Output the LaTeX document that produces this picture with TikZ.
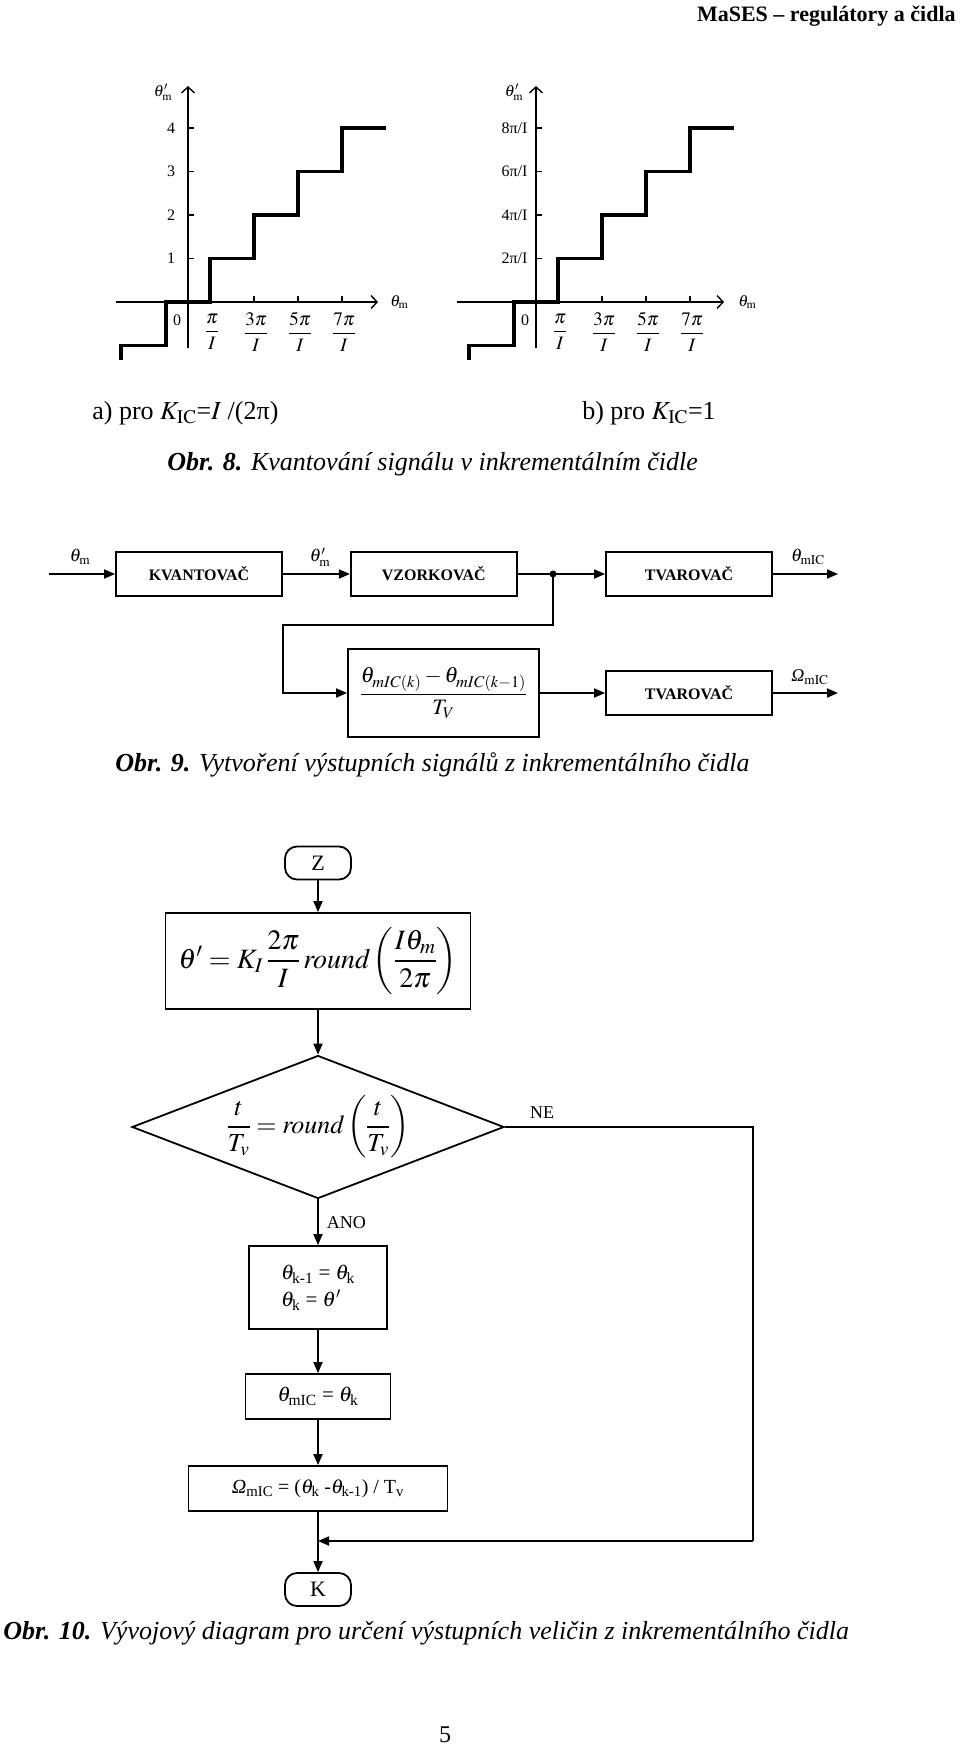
\documentclass[tikz,border=0pt]{standalone}
\usepackage{mathptmx}
\usepackage[no-math]{fontspec}
\setmainfont{Liberation Serif}
\usepackage{amsmath}
\usepackage{tikz}
\usetikzlibrary{arrows.meta}
\usetikzlibrary{positioning}
\usetikzlibrary{shapes.geometric}

\newcommand{\pxsize}[1]{\fontsize{#1}{#1}\selectfont}

\begin{document}
\begin{tikzpicture}[x=1pt, y=-1pt, >={Triangle[length=11pt, width=9pt]}, semithick]
    \tikzstyle{blok}=[draw, line width=1.8pt, minimum width=166pt, minimum height=44pt, inner sep=0pt, font=\pxsize{16}\bfseries]
    \tikzstyle{krok}=[draw, line width=1.8pt, inner sep=0pt, font=\pxsize{21}]
    \tikzstyle{mez}=[draw, line width=1.8pt, rounded corners=12pt, minimum width=66pt, minimum height=33pt, inner sep=0pt, font=\pxsize{22}]
    \tikzstyle{spoj}=[line width=1.8pt, ->]
    \tikzstyle{osa}=[line width=1.4pt, -{Straight Barb[length=6pt, width=13pt]}]
    \tikzstyle{schod}=[line width=3.8pt, line join=miter]
    \tikzstyle{popis}=[inner sep=0pt, font=\pxsize{16}]
    \tikzstyle{titulek}=[anchor=west, inner sep=0pt, font=\pxsize{26}\itshape]

    \useasboundingbox (0,0) rectangle (960,1745);

    \node[anchor=east, inner sep=0pt, font=\pxsize{22}\bfseries] (hlava) at (956,16) {MaSES – regulátory a čidla};

    \begin{scope}[shift={(188,302)}]
        \draw[osa] (-72,0) -- (190,0);
        \draw[osa] (0,46) -- (0,-216);
        \node[popis, anchor=west] (xa) at (202,0) {$\theta_{\mathrm{m}}$};
        \node[popis] (ya) at (-25,-210) {$\theta'_{\mathrm{m}}$};
        \foreach \k in {1,...,4}
            \draw[line width=1.2pt] (0,-43.5*\k) -- (6,-43.5*\k) node[popis] at (-17,-43.5*\k) {\k};
        \foreach \k in {3,5,7}
            \draw[line width=1.2pt] (22*\k,0) -- (22*\k,-6);
        \foreach \k/\lab in {1/\pi,3/3\pi,5/5\pi,7/7\pi}
            \node[popis, font=\pxsize{19}] at (22*\k+2,30) {$\displaystyle\frac{\lab}{I}$};
        \node[popis] (nula) at (-11,18) {0};
        \draw[schod] (-67,58) -- (-67,43.5) -- (-22,43.5) -- (-22,0) -- (22,0) -- (22,-43.5) -- (66,-43.5)
            -- (66,-87) -- (110,-87) -- (110,-130.5) -- (154,-130.5) -- (154,-174) -- (198,-174);
    \end{scope}

    \begin{scope}[shift={(536,302)}]
        \draw[osa] (-79,0) -- (188,0);
        \draw[osa] (0,46) -- (0,-216);
        \node[popis, anchor=west] (xb) at (202,0) {$\theta_{\mathrm{m}}$};
        \node[popis] (yb) at (-22,-210) {$\theta'_{\mathrm{m}}$};
        \foreach \k/\lab in {1/2,2/4,3/6,4/8}
            \draw[line width=1.2pt] (0,-43.5*\k) -- (6,-43.5*\k) node[popis, anchor=east] at (-8,-43.5*\k) {\lab π/I};
        \foreach \k in {3,5,7}
            \draw[line width=1.2pt] (22*\k,0) -- (22*\k,-6);
        \foreach \k/\lab in {1/\pi,3/3\pi,5/5\pi,7/7\pi}
            \node[popis, font=\pxsize{19}] at (22*\k+2,30) {$\displaystyle\frac{\lab}{I}$};
        \node[popis] (nulb) at (-11,18) {0};
        \draw[schod] (-67,58) -- (-67,43.5) -- (-22,43.5) -- (-22,0) -- (22,0) -- (22,-43.5) -- (66,-43.5)
            -- (66,-87) -- (110,-87) -- (110,-130.5) -- (154,-130.5) -- (154,-174) -- (198,-174);
    \end{scope}

    \node[titulek, font=\pxsize{26}] (capa) at (92,413) {a) pro $K_{\mathrm{IC}}$=$I$ /(2π)};
    \node[titulek, font=\pxsize{26}] (capb) at (582,413) {b) pro $K_{\mathrm{IC}}$=1};
    \node[titulek] (obr8) at (167,464) {\textbf{Obr. 8.} Kvantování signálu v inkrementálním čidle};

    \node[blok] (kv) at (199,574) {KVANTOVAČ};
    \node[blok, right=67pt of kv] (vz) {VZORKOVAČ};
    \node[blok] (tv) at (689,574) {TVAROVAČ};
    \node[draw, line width=1.8pt, minimum width=191pt, minimum height=88pt, inner sep=0pt, font=\pxsize{22}] (zlom) at (443.5,693)
        {$\displaystyle\frac{\theta_{mIC(k)}-\theta_{mIC(k-1)}}{T_V}$};
    \node[blok] (tv2) at (689,693) {TVAROVAČ};
    \coordinate (vstup) at (49,574);
    \coordinate (vystup) at (838,574);
    \coordinate (vystup2) at (838,693);
    \coordinate (uzel) at (553,574);
    \coordinate (ohyb) at (283,625);

    \draw[spoj] (vstup) -- (kv);
    \draw[spoj] (kv) -- (vz);
    \draw[spoj] (vz) -- (tv);
    \draw[spoj] (tv) -- (vystup);
    \fill (uzel) circle (3.5pt);
    \draw[spoj] (uzel) -- (uzel |- ohyb) -- (ohyb) |- (zlom.west);
    \draw[spoj] (zlom) -- (tv2);
    \draw[spoj] (tv2) -- (vystup2);

    \node[popis, font=\pxsize{18}] (lthm) at (80,557) {$\theta_{\mathrm{m}}$};
    \node[popis, font=\pxsize{18}] (lthc) at (320,557) {$\theta'_{\mathrm{m}}$};
    \node[popis, font=\pxsize{18}] (lthic) at (808,557) {$\theta_{\mathrm{mIC}}$};
    \node[popis, font=\pxsize{18}] (lomic) at (810,677) {\textit{Ω}$_{\mathrm{mIC}}$};

    \node[titulek] (obr9) at (115,765) {\textbf{Obr. 9.} Vytvoření výstupních signálů z inkrementálního čidla};

    \node[mez] (z) at (318,863) {Z};
    \node[krok, minimum width=305pt, minimum height=96pt, font=\pxsize{28}] (f1) at (318,961)
        {$\theta' = K_I\,\displaystyle\frac{2\pi}{I}\,\mathit{round}\left(\frac{I\theta_m}{2\pi}\right)$};
    \node[draw, diamond, aspect=2.6, minimum width=372pt, minimum height=143pt, line width=1.8pt, inner sep=0pt, font=\pxsize{26}] (rozh) at (318,1127)
        {$\displaystyle\frac{t}{T_v} = \mathit{round}\left(\frac{t}{T_v}\right)$};
    \node[krok, minimum width=138pt, minimum height=83pt, align=left] (f2) at (318,1287.5)
        {$\theta_{\text{k-1}}$ = $\theta_{\text{k}}$\\[6pt] $\theta_{\text{k}}$ = $\theta'$};
    \node[krok, minimum width=145pt, minimum height=45pt] (f3) at (318,1396.5) {$\theta_{\text{mIC}}$ = $\theta_{\text{k}}$};
    \node[krok, minimum width=259pt, minimum height=45pt, font=\pxsize{20}] (f4) at (318,1488.5)
        {\textit{Ω}$_{\text{mIC}}$ = ($\theta_{\text{k}}$ -$\theta_{\text{k-1}}$) / T$_{\text{v}}$};
    \node[mez] (k) at (318,1589.5) {K};
    \coordinate (sb) at (318,1541);
    \coordinate (ne) at (753,1127);

    \draw[spoj] (z) -- (f1);
    \draw[spoj] (f1) -- (rozh);
    \draw[spoj] (rozh) -- node[anchor=west, xshift=8pt, inner sep=0pt, font=\pxsize{18}] {ANO} (f2);
    \draw[spoj] (f2) -- (f3);
    \draw[spoj] (f3) -- (f4);
    \draw[spoj] (f4) -- (k);
    \draw[line width=1.8pt] (rozh.east) -- node[pos=0.15, above=8pt, inner sep=0pt, font=\pxsize{18}] {NE} (ne) -- (ne |- sb);
    \draw[spoj] (ne |- sb) -- (sb);

    \node[titulek] (obr10) at (3,1633) {\textbf{Obr. 10.} Vývojový diagram pro určení výstupních veličin z inkrementálního čidla};
    \node[inner sep=0pt, font=\pxsize{24}] (strana) at (445,1735) {5};
\end{tikzpicture}
\end{document}
